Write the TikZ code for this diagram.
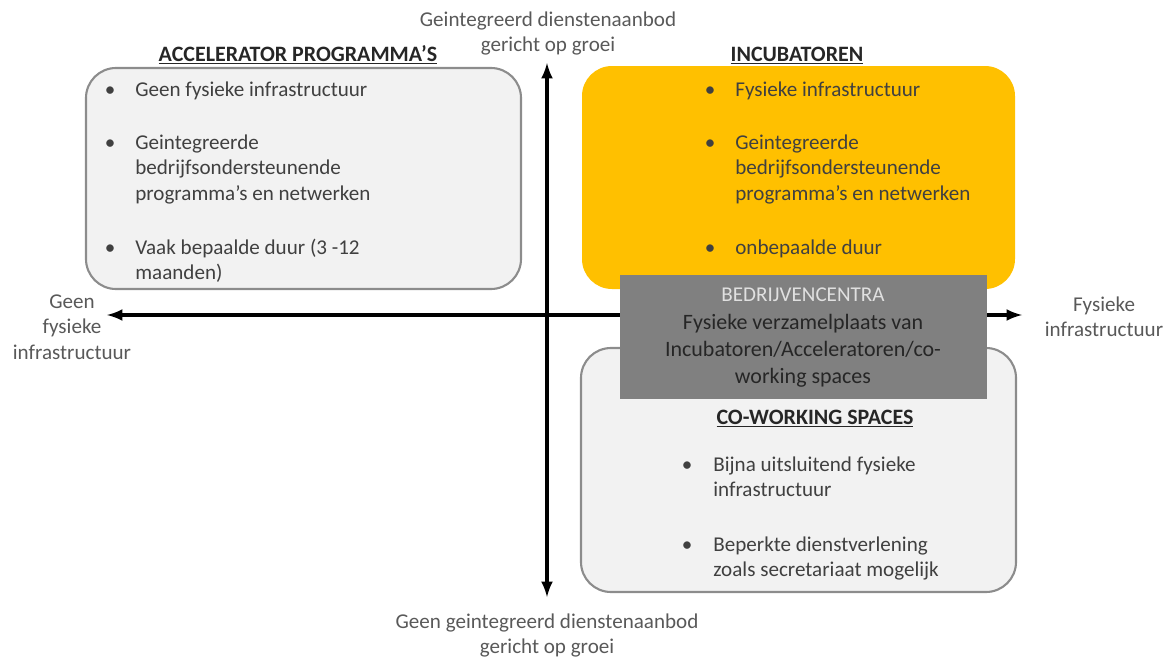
\documentclass[tikz,border=0pt]{standalone}
\usepackage{fontspec}
\setmainfont{Carlito}
\definecolor{vakgrijs}{HTML}{F2F2F2}
\definecolor{randgrijs}{HTML}{8C8C8C}
\definecolor{incugeel}{HTML}{FFC000}
\definecolor{centragrijs}{HTML}{808080}
\definecolor{tekst}{HTML}{404040}
\definecolor{astekst}{HTML}{595959}
\begin{document}
\begin{tikzpicture}[x=0.02cm,y=-0.02cm,
  vak/.style={fill=vakgrijs,draw=randgrijs,line width=1.2pt,rounded corners=0.6cm},
  regel/.style={anchor=base west,align=left,inner sep=0pt,text=tekst,font=\fontsize{12}{14.5}\selectfont},
  bol/.style={anchor=base,inner sep=0pt,text=tekst,font=\fontsize{12}{14.5}\selectfont},
  kop/.style={anchor=base,inner sep=0pt,text=black!85,font=\bfseries\fontsize{12.5}{14.5}\selectfont},
  aslabel/.style={anchor=base,align=center,inner sep=0pt,text=astekst,font=\fontsize{12}{14.5}\selectfont}]
  \useasboundingbox (0,0) rectangle (1174,659);
  % vakken
  \draw[vak] (86,68) rectangle (521,289);
  \fill[incugeel,rounded corners=0.6cm] (582,66) rectangle (1015,289);
  \draw[vak] (581,348) rectangle (1016,592);
  % assen
  \coordinate (links) at (107,315);
  \coordinate (rechts) at (1022,315);
  \coordinate (boven) at (547,63);
  \coordinate (onder) at (547,597);
  \draw[<->,>=latex,line width=2pt] (links) -- (rechts);
  \draw[<->,>=latex,line width=2pt] (boven) -- (onder);
  % bedrijvencentra
  \fill[centragrijs] (620,275) rectangle (987,399);
  \node[anchor=base,inner sep=0pt,text=black!12,font=\fontsize{12}{14.5}\selectfont] (bctitel) at (803,301) {BEDRIJVENCENTRA};
  \node[anchor=base,align=center,inner sep=0pt,text=black!85,font=\fontsize{12.5}{15.5}\selectfont] (bctekst) at (803,383.5)
    {Fysieke verzamelplaats van\\Incubatoren/Acceleratoren/co-\\working spaces};
  % titels
  \node[kop] (acctitel) at (298,61) {\underline{ACCELERATOR PROGRAMMA'S}};
  \node[kop] (incutitel) at (797,61) {\underline{INCUBATOREN}};
  \node[kop] (cotitel) at (815,424) {\underline{CO-WORKING SPACES}};
  % accelerator programma's
  \node[bol] (ab1) at (110,96) {\textbullet};
  \node[regel] (a1) at (135,96) {Geen fysieke infrastructuur};
  \node[bol] (ab2) at (110,149) {\textbullet};
  \node[regel] (a2) at (135,200) {Geintegreerde\\bedrijfsondersteunende\\programma's en netwerken};
  \node[bol] (ab3) at (110,254) {\textbullet};
  \node[regel] (a3) at (135,279.5) {Vaak bepaalde duur (3 -12\\maanden)};
  % incubatoren
  \node[bol] (ib1) at (710,96) {\textbullet};
  \node[regel] (i1) at (735,96) {Fysieke infrastructuur};
  \node[bol] (ib2) at (710,149) {\textbullet};
  \node[regel] (i2) at (735,200) {Geintegreerde\\bedrijfsondersteunende\\programma's en netwerken};
  \node[bol] (ib3) at (710,254) {\textbullet};
  \node[regel] (i3) at (735,254) {onbepaalde duur};
  % co-working spaces
  \node[bol] (cb1) at (687,471) {\textbullet};
  \node[regel] (c1) at (713,496.5) {Bijna uitsluitend fysieke\\infrastructuur};
  \node[bol] (cb2) at (687,551) {\textbullet};
  \node[regel] (c2) at (713,576.5) {Beperkte dienstverlening\\zoals secretariaat mogelijk};
  % aslabels
  \node[aslabel] (ylabelboven) at (548,51.5) {Geintegreerd dienstenaanbod\\gericht op groei};
  \node[aslabel] (ylabelonder) at (547,653.5) {Geen geintegreerd dienstenaanbod\\gericht op groei};
  \node[aslabel] (xlabellinks) at (72,359) {Geen\\fysieke\\infrastructuur};
  \node[aslabel] (xlabelrechts) at (1104,336.5) {Fysieke\\infrastructuur};
\end{tikzpicture}
\end{document}
